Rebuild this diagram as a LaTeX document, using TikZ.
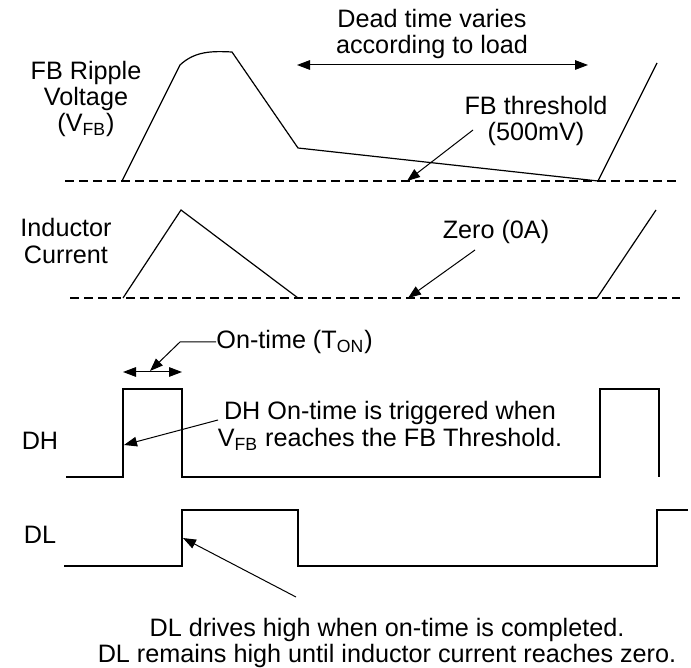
\documentclass[tikz,border=0pt]{standalone}
\usepackage{fontspec}
\setmainfont{Liberation Sans}
\usetikzlibrary{arrows.meta}
\newcommand{\Waves}{
    \draw[zero] (65,181) -- (680,181);
    \draw[wave] (122,181) -- (180,65) .. controls (195,51) and (212,51) .. (232,52) -- (298,148) -- (598,181);
    \draw[wave] (598,181) -- (657,63);
    \draw[zero] (70,298) -- (680,298);
    \draw[wave] (123,298) -- (181,210) -- (298,298);
    \draw[wave] (597,298) -- (656,210);
    \draw[wave] (66,477) -| (123,389) -| (182,477) -| (600,389) -| (659,477);
    \draw[wave] (64,566) -| (182,510) -| (298,566) -| (657,510) -- (688,510);
}

\begin{document}
\begin{tikzpicture}[x=0.5pt,y=-0.5pt,
        wave/.style={line width=0.6pt},
        zero/.style={line width=1.1pt,dash pattern=on 4.5pt off 2.5pt},
        lbl/.style={align=center,inner sep=0pt,font=\fontsize{12.6}{13.2}\selectfont},
        tip/.style={-{Triangle[length=6.5pt,width=4.8pt]},line width=0.5pt},
        both/.style={{Triangle[length=6.5pt,width=4.8pt]}-{Triangle[length=6.5pt,width=4.8pt]},line width=0.5pt}]
        \useasboundingbox (0,0) rectangle (691,668);
        \Waves
        \node[lbl] (vfb) at (86,99) {FB Ripple\\Voltage\\(V\textsubscript{FB})};
        \node[lbl] (dead) at (432,34) {Dead time varies\\according to load};
        \coordinate (deadL) at (297,65);
        \coordinate (deadR) at (588,65);
        \draw[both] (deadL) -- (deadR);
        \node[lbl] (thr) at (536,121) {FB threshold\\(500mV)};
        \coordinate (thrtail) at (473,130);
        \coordinate (thrpt) at (407,181);
        \draw[tip] (thrtail) -- (thrpt);
        \node[lbl] (il) at (66,241) {Inductor\\Current};
        \node[lbl] (zerotxt) at (496,232) {Zero (0A)};
        \coordinate (zerotail) at (475,250);
        \coordinate (zeropt) at (408,298);
        \draw[tip] (zerotail) -- (zeropt);
        \node[lbl,anchor=west] (ton) at (216,342) {On-time (T\textsubscript{ON})};
        \coordinate (tonknee) at (180,342);
        \coordinate (tonpt) at (150,371);
        \draw[tip] (ton.west) -- (tonknee) -- (tonpt);
        \coordinate (tonL) at (123,372);
        \coordinate (tonR) at (182,372);
        \draw[both] (tonL) -- (tonR);
        \node[lbl] (dh) at (40,441) {DH};
        \node[lbl] (dhtxt) at (390,426) {DH On-time is triggered when\\V\textsubscript{FB} reaches the FB Threshold.};
        \coordinate (dhtail) at (218,420);
        \coordinate (dhpt) at (124,445);
        \draw[tip] (dhtail) -- (dhpt);
        \node[lbl] (dl) at (40,535) {DL};
        \node[lbl] (dltxt) at (387,643) {DL drives high when on-time is completed.\\DL remains high until inductor current reaches zero.};
        \coordinate (dltail) at (296,597);
        \coordinate (dlpt) at (183,538);
        \draw[tip] (dltail) -- (dlpt);
    \end{tikzpicture}
\end{document}
